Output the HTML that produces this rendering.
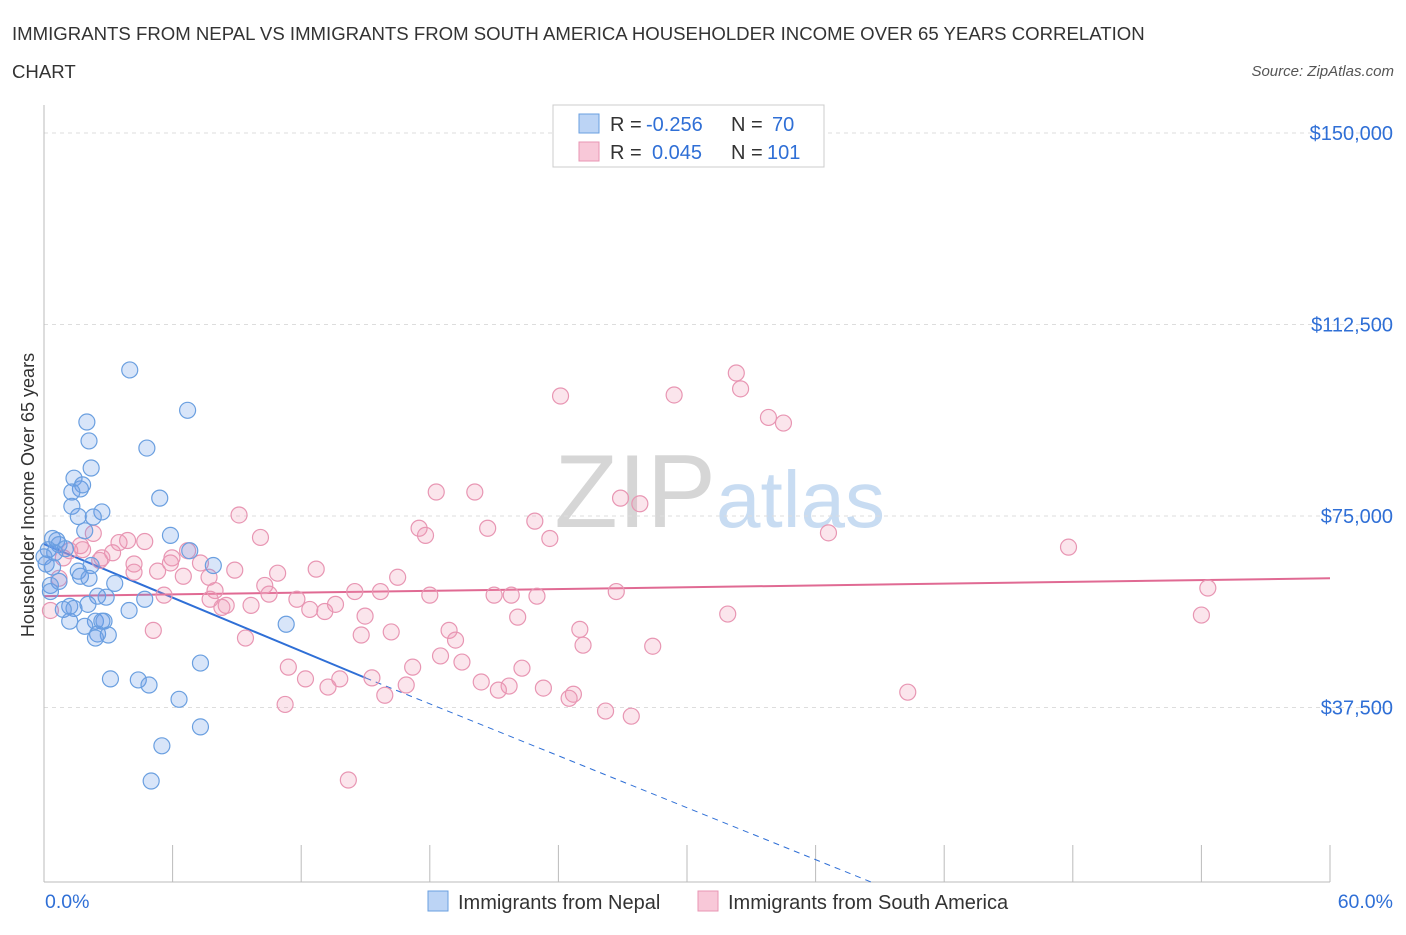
<!DOCTYPE html>
<html><head><meta charset="utf-8">
<style>
body{margin:0;background:#fff;font-family:"Liberation Sans",sans-serif;}
svg text{font-family:"Liberation Sans",sans-serif;}
</style></head>
<body>
<svg id="chart" width="1406" height="930" xmlns="http://www.w3.org/2000/svg">
<text x="12" y="40" font-size="18.6" fill="#333">IMMIGRANTS FROM NEPAL VS IMMIGRANTS FROM SOUTH AMERICA HOUSEHOLDER INCOME OVER 65 YEARS CORRELATION</text>
<text x="12" y="78" font-size="18.6" fill="#333">CHART</text>
<text x="1394" y="76" font-size="15" fill="#555" font-style="italic" text-anchor="end">Source: ZipAtlas.com</text>
<text x="716" y="527" font-size="104" fill="#d6d6d6" text-anchor="end" font-family="Liberation Serif">ZIP</text>
<text x="716" y="527" font-size="80" fill="#c8dcf2">atlas</text>
<text transform="translate(34,495) rotate(-90)" font-size="18" fill="#333" text-anchor="middle">Householder Income Over 65 years</text>
<g id="grid"></g><g id="axes"></g><g id="trend"></g><g id="pts"></g>
<g>
<rect x="553" y="105" width="271" height="62" fill="#fff" stroke="#ccc"/>
<rect x="579" y="114" width="20" height="19" fill="#bcd4f5" stroke="#6a9fe0"/>
<rect x="579" y="142" width="20" height="19" fill="#f8c8d8" stroke="#e896b3"/>
<text x="610" y="131" font-size="20" fill="#333">R =</text>
<text x="646" y="131" font-size="20" fill="#2f6fd6">-0.256</text>
<text x="731" y="131" font-size="20" fill="#333">N =</text>
<text x="772" y="131" font-size="20" fill="#2f6fd6">70</text>
<text x="610" y="159" font-size="20" fill="#333">R =</text>
<text x="652" y="159" font-size="20" fill="#2f6fd6">0.045</text>
<text x="731" y="159" font-size="20" fill="#333">N =</text>
<text x="767" y="159" font-size="20" fill="#2f6fd6">101</text>
</g>
<g>
<rect x="428" y="891" width="20" height="20" fill="#bcd4f5" stroke="#6a9fe0"/>
<text x="458" y="909" font-size="20" fill="#333">Immigrants from Nepal</text>
<rect x="698" y="891" width="20" height="20" fill="#f8c8d8" stroke="#e896b3"/>
<text x="728" y="909" font-size="20" fill="#333">Immigrants from South America</text>
</g>
</svg>
<script>
const yTicks=[37500,75000,112500,150000];
const yTickLabels=["$37,500","$75,000","$112,500","$150,000"];
const xTickLabels=["0.0%","60.0%"];
const nepalX=[4.0,2.0,6.7,2.1,4.8,2.2,1.4,1.7,1.8,5.4,1.3,2.7,2.3,1.3,1.6,1.9,5.9,0.4,0.6,0.7,1.0,0.2,0.5,6.8,7.9,2.2,0.4,1.6,1.7,2.1,0.7,3.3,0.3,0.3,2.5,2.9,4.7,1.2,1.4,0.9,3.97,2.05,1.2,2.4,2.8,2.7,1.9,2.5,3.0,2.4,11.3,3.1,4.4,4.9,7.3,6.3,7.3,5.5,5.0,0.0,0.1];
const nepalY=[103600,93400,95700,89700,88300,84400,82400,80300,81100,78500,79700,75800,74800,76900,74900,72100,71200,70600,70200,69400,68600,68400,67800,68200,65300,65300,65000,64200,63200,62800,62200,61800,61400,60200,59300,59100,58700,57300,56900,56700,56500,57700,54400,54400,54400,54400,53400,51900,51700,51100,53800,43100,42900,41900,46200,39100,33700,30000,23100,67000,65600];
const saX=[32.3,32.5,24.1,29.4,34.5,33.8,18.3,20.1,26.9,27.8,9.1,22.9,17.5,20.7,36.6,17.8,23.6,10.1,47.8,2.3,3.5,3.9,4.7,3.2,2.7,1.7,0.9,6.7,5.97,5.9,7.3,4.2,4.2,8.9,5.3,6.5,7.7,10.9,12.7,16.5,10.3,7.98,14.5,15.7,26.7,54.3,11.8,18.0,21.0,21.8,23.0,8.5,7.75,5.6,10.5,8.3,9.66,12.4,13.1,13.6,14.98,22.1,5.1,14.8,16.2,18.9,19.2,25.0,25.15,28.4,31.9,54.0,9.4,18.5,19.5,17.2,22.3,11.4,12.2,13.8,15.3,20.4,21.7,21.2,23.3,24.7,24.5,16.9,13.25,11.25,15.9,40.3,26.2,27.4,14.2,0.3,0.7,1.2,1.8,2.6];
const saY=[103000,99900,98500,98700,93200,94300,79700,79700,78500,77400,75200,74000,72600,72600,71700,71200,70600,70800,68900,71600,69800,70200,70000,67800,66800,69200,66800,68200,66800,65800,65800,65600,64000,64400,64200,63200,63000,63800,64600,63000,61400,60400,60200,60200,60200,60900,58700,59500,59500,59500,59300,57500,58700,59500,59700,57100,57500,56700,56300,57700,55400,55200,52600,51700,52300,52600,50700,52800,49700,49500,55800,55600,51100,47600,46400,45400,45200,45400,43100,43100,43300,42500,41700,40900,41300,40100,39300,41900,41500,38100,39900,40500,36800,35800,23300,56500,62800,68200,68400,66300];
const trendNepal=[[0,69500],[15,43300],[38.6,3300]];
const trendSA=[[0,59300],[60,62800]];
const X0=44,X1=1330,YB=882;
const xs=v=>X0+(X1-X0)*v/60;
const ys=v=>899-v*(191.5/37500);
const NS="http://www.w3.org/2000/svg";
function mk(tag,attrs,parent){const e=document.createElementNS(NS,tag);for(const k in attrs)e.setAttribute(k,attrs[k]);parent.appendChild(e);return e;}
const grid=document.getElementById('grid'),axes=document.getElementById('axes');
yTicks.forEach((t,i)=>{
 const l=mk('line',{x1:X0,x2:1394,y1:ys(t),y2:ys(t),stroke:'#ddd','stroke-dasharray':'4,4'},grid);
 
 
 const tx=mk('text',{x:1393,y:ys(t)+7,'font-size':20,fill:'#2f6fd6','text-anchor':'end'},axes);
 tx.textContent=yTickLabels[i];
 
 
});
mk('line',{x1:X0,x2:X0,y1:105,y2:YB,stroke:'#bbb'},axes);
mk('line',{x1:X0,x2:X1,y1:YB,y2:YB,stroke:'#bbb'},axes);
for(let i=1;i<=10;i++){mk('line',{x1:xs(i*6),x2:xs(i*6),y1:845,y2:YB,stroke:'#bbb'},axes);}
const xl0=mk('text',{x:45,y:908,'font-size':19.5,fill:'#2f6fd6'},axes);xl0.textContent=xTickLabels[0];


const xl1=mk('text',{x:1393,y:908,'font-size':19.5,fill:'#2f6fd6','text-anchor':'end'},axes);xl1.textContent=xTickLabels[1];


const pts=document.getElementById('pts');
saX.forEach((x,i)=>{const c=mk('circle',{cx:xs(x),cy:ys(saY[i]),r:8,fill:'rgba(240,150,180,0.25)',stroke:'#e896b3','stroke-width':1.2},pts);
 
 });
nepalX.forEach((x,i)=>{const c=mk('circle',{cx:xs(x),cy:ys(nepalY[i]),r:8,fill:'rgba(100,150,230,0.25)',stroke:'#6a9fe0','stroke-width':1.2},pts);
 
 });
const tr=document.getElementById('trend');
const a=mk('line',{x1:xs(trendNepal[0][0]),y1:ys(trendNepal[0][1]),x2:xs(trendNepal[1][0]),y2:ys(trendNepal[1][1]),stroke:'#2f6fd6','stroke-width':2},tr);


const b=mk('line',{x1:xs(trendNepal[1][0]),y1:ys(trendNepal[1][1]),x2:xs(trendNepal[2][0]),y2:ys(trendNepal[2][1]),stroke:'#2f6fd6','stroke-width':1,'stroke-dasharray':'6,5'},tr);


const c=mk('line',{x1:xs(trendSA[0][0]),y1:ys(trendSA[0][1]),x2:xs(trendSA[1][0]),y2:ys(trendSA[1][1]),stroke:'#e06a93','stroke-width':2},tr);


</script>
</body></html>
